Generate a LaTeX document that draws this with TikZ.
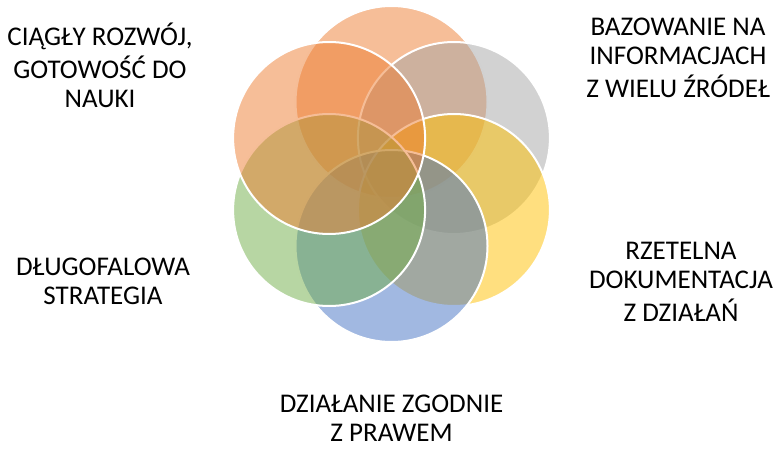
\documentclass[tikz,border=0pt]{standalone}
\usepackage{fontspec}
\setmainfont{Carlito}
\usetikzlibrary{calc}
\definecolor{cOrange}{HTML}{ED7D31}
\definecolor{cGray}{HTML}{A5A5A5}
\definecolor{cGold}{HTML}{FFC000}
\definecolor{cBlue}{HTML}{4472C4}
\definecolor{cGreen}{HTML}{70AD47}
\begin{document}
\begin{tikzpicture}[x=1pt,y=-1pt,
  petal/.style={circle,draw=white,line width=2pt,fill opacity=0.5,minimum size=192pt,inner sep=0pt},
  lbl/.style={align=center,inner sep=0pt,font=\fontsize{27}{29}\selectfont}]
\useasboundingbox (0,0) rectangle (778,449);
\coordinate (m) at (391.5,174);
\node[petal,fill=cOrange] (c1) at ($(m)+(0,-72)$) {};
\node[petal,fill=cGray] (c2) at ($(m)+(62.4,-36)$) {};
\node[petal,fill=cGold] (c3) at ($(m)+(62.4,36)$) {};
\node[petal,fill=cBlue] (c4) at ($(m)+(0,72)$) {};
\node[petal,fill=cGreen] (c5) at ($(m)+(-62.4,36)$) {};
\node[petal,fill=cOrange] (c6) at ($(m)+(-62.4,-36)$) {};
\node[lbl] (t1) at (100,69.7) {\strut CIĄGŁY ROZWÓJ,\\\strut GOTOWOŚĆ DO\\\strut NAUKI};
\node[lbl] (t2) at (678,60.7) {\strut BAZOWANIE NA\\\strut INFORMACJACH\\\strut Z WIELU ŹRÓDEŁ};
\node[lbl] (t3) at (681,284.7) {\strut RZETELNA\\\strut DOKUMENTACJA\\\strut Z DZIAŁAŃ};
\node[lbl] (t4) at (103,283.7) {\strut DŁUGOFALOWA\\\strut STRATEGIA};
\node[lbl,anchor=south] (t5) at (391.5,441.5) {\strut DZIAŁANIE ZGODNIE\\Z PRAWEM};
\end{tikzpicture}
\end{document}
